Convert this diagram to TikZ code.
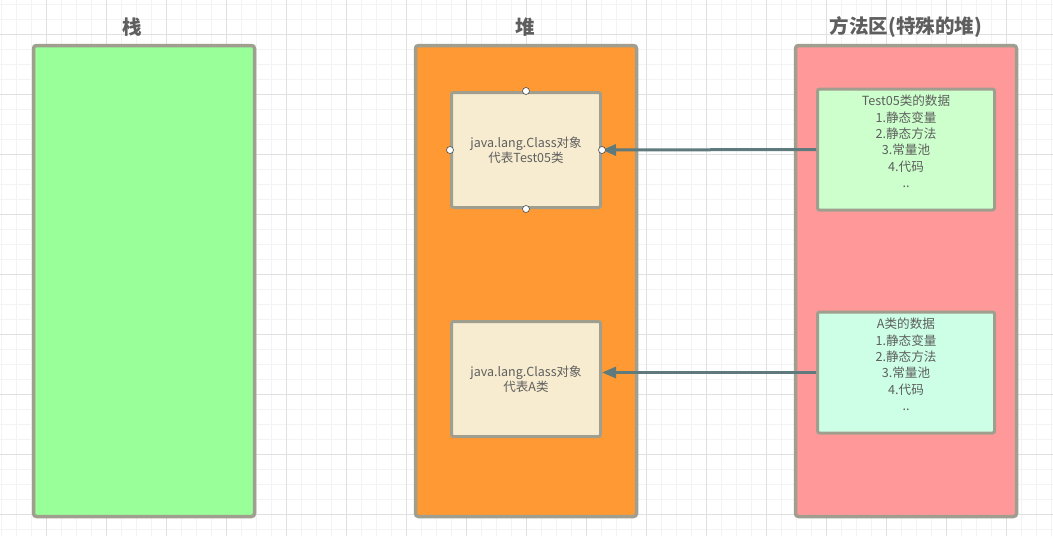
\documentclass[tikz,border=0pt]{standalone}
\usepackage{fontspec}
\setmainfont{Noto Sans CJK SC}
\usetikzlibrary{arrows.meta}
\definecolor{gridminor}{HTML}{F3F3F3}
\definecolor{gridmajor}{HTML}{E0E0E0}
\definecolor{bordergray}{HTML}{A09E8E}
\definecolor{stackfill}{HTML}{99FF99}
\definecolor{heapfill}{HTML}{FF9933}
\definecolor{methodfill}{HTML}{FF9999}
\definecolor{creamfill}{HTML}{F7ECD0}
\definecolor{greenfill}{HTML}{CCFFCC}
\definecolor{mintfill}{HTML}{CCFFE6}
\definecolor{arrowcol}{HTML}{5E7A7C}
\definecolor{txtgray}{HTML}{5E5E5E}
\tikzset{
  area/.style={draw=bordergray, line width=3.5pt, rounded corners=3pt, minimum width=221pt, minimum height=471pt, anchor=north west, inner sep=0pt, outer sep=0pt},
  title/.style={font=\fontsize{19.5}{22}\selectfont\bfseries, text=txtgray},
  inbox/.style={draw=bordergray, line width=3pt, rounded corners=2pt, fill=creamfill, minimum width=149pt, minimum height=115pt, inner sep=0pt, align=center, text=txtgray, font=\fontsize{12.5}{15.5}\selectfont},
  databox/.style={draw=bordergray, line width=3pt, rounded corners=2pt, minimum width=177pt, minimum height=121pt, inner sep=0pt},
  datatext/.style={align=center, text=txtgray, font=\fontsize{12.6}{16.4}\selectfont, inner sep=0pt},
  handle/.style={circle, draw=black!70, fill=white, line width=0.6pt, minimum size=7pt, inner sep=0pt},
  link/.style={draw=arrowcol, line width=3pt, -{Triangle[length=14pt,width=11pt]}}
}
\begin{document}
\begin{tikzpicture}[x=1pt,y=-1pt]
\useasboundingbox (0,0) rectangle (1053,536);
\fill[white] (0,0) rectangle (1053,536);
% grid
\foreach \gx in {1,16,...,1053} {\draw[gridminor, line width=0.8pt] (\gx,0) -- (\gx,536);}
\foreach \gy in {4,19,...,536} {\draw[gridminor, line width=0.8pt] (0,\gy) -- (1053,\gy);}
\foreach \gx in {46,106,...,1053} {\draw[gridmajor, line width=0.9pt] (\gx,0) -- (\gx,536);}
\foreach \gy in {34,94,...,536} {\draw[gridmajor, line width=0.9pt] (0,\gy) -- (1053,\gy);}
% areas
\node[area, fill=stackfill] (stack) at (33.5,45.5) {};
\node[area, fill=heapfill] (heap) at (415.5,45.5) {};
\node[area, fill=methodfill] (method) at (795.5,45.5) {};
\node[title] (tstack) at (132,27) {栈};
\node[title] (theap) at (525,27) {堆};
\node[title] (tmethod) at (906,27) {方法区(特殊的堆)};
% heap objects
\node[inbox] (obj1) at (526,150) {java.lang.Class对象\\代表Test05类};
\node[inbox] (obj2) at (526,379) {java.lang.Class对象\\代表A类};
% method data
\node[databox, fill=greenfill] (data1) at (906,149.5) {};
\node[datatext] (data1t) at ([yshift=8pt]data1.center) {Test05类的数据\\1.静态变量\\2.静态方法\\3.常量池\\4.代码\\..};
\node[databox, fill=mintfill] (data2) at (906,372.5) {};
\node[datatext] (data2t) at ([yshift=8pt]data2.center) {A类的数据\\1.静态变量\\2.静态方法\\3.常量池\\4.代码\\..};
% arrows
\draw[link] (data1.west) -- (obj1.east);
\draw[link] (data2.west) -- (data2.west -| obj2.east);
% handles
\node[handle] (h1) at (obj1.north) {};
\node[handle] (h2) at (obj1.south) {};
\node[handle] (h3) at (obj1.west) {};
\node[handle] (h4) at (obj1.east) {};
\end{tikzpicture}
\end{document}
